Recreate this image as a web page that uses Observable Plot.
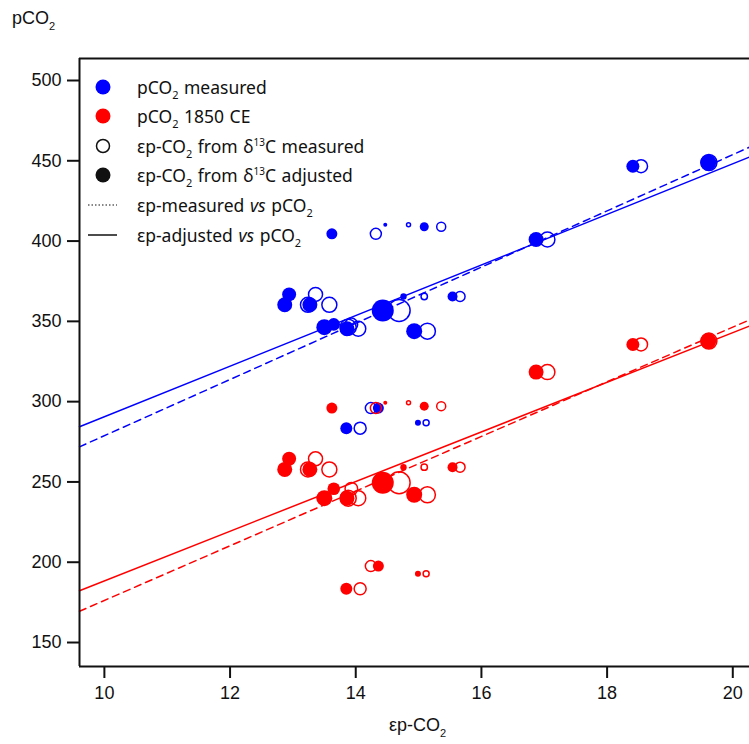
<!DOCTYPE html>
<html><head><meta charset="utf-8">
<script src="https://cdn.jsdelivr.net/npm/d3@7"></script>
<script src="https://cdn.jsdelivr.net/npm/@observablehq/plot@0.6"></script>
<style>
body{margin:0;background:#fff;}
#wrap{position:relative;width:749px;height:744px;overflow:hidden;}
.lg{position:absolute;left:80px;font-family:"Noto Sans",sans-serif;font-size:17.5px;color:#111;height:26px;line-height:26px;display:flex;align-items:center;white-space:nowrap;word-spacing:1px;}
.lg svg{width:48px;height:26px;margin-right:9px;flex:none;}
.lg sub{font-size:11px;vertical-align:-5px;line-height:0;}
.lg sup{font-size:10px;vertical-align:7px;line-height:0;}
.ax{position:absolute;font-family:"Liberation Sans",Arial,sans-serif;font-size:18px;color:#111;white-space:nowrap;}
.ax sub{font-size:11px;vertical-align:-6px;line-height:0;}
</style></head><body><div id="wrap"></div>
<script>
// ---- data ----
const sampleIds       = ["A","B","C","D","E","F","G","H","I","J","K","L","M","N","O","P","Q","R","S"];
const epsAdjusted     = [12.94,12.87,13.27,13.50,13.65,13.86,14.43,14.76,15.54,14.93,13.62,14.47,15.09,14.36,13.85,14.99,16.87,18.41,19.61];
const epsMeasured     = [13.36,13.24,13.58,13.88,13.93,14.04,14.69,15.09,15.66,15.14,14.32,14.84,15.36,14.24,14.07,15.12,17.05,18.54,19.62];
const pco2Measured    = [366.8,360.3,360.3,346.4,348.1,345.4,356.8,365.5,365.5,343.9,404.5,410.1,408.9,296.0,283.5,286.9,401.0,446.6,448.9];
const pco2Year1850    = [264.4,257.8,257.8,239.9,245.8,239.9,249.5,259.2,259.2,242.0,296.0,299.3,297.2,197.6,183.5,192.8,318.4,335.6,337.7];
const sampleWeight    = [7,7.5,7.5,8,6.3,7.5,11,3.2,5,8,5.5,2,4.5,5.5,6,3,7.5,6.5,8];

// regression fits: value at εp = 10 and slope
const fitNames      = ["blue-adjusted","blue-measured","red-adjusted","red-measured"];
const fitAt10       = [290.6,278.8,188.4,176.2];
const fitSlope      = [15.75,17.5,15.46,17.02];

const xTicks = [10,12,14,16,18,20];
const yTicks = [150,200,250,300,350,400,450,500];

// ---- build ----
const BLUE = "#0000ff", RED = "#ff0000";
const xDomain = [9.604, 20.266];
const yDomain = [135.06, 513.7];

const samples = sampleIds.map((id,i)=>({id, adj:epsAdjusted[i], meas:epsMeasured[i], pm:pco2Measured[i], p1850:pco2Year1850[i], w:sampleWeight[i]}));
const fitLines = fitNames.flatMap((name,i)=>xDomain.map(x=>({name, x, y: fitAt10[i] + fitSlope[i]*(x-10)})));
const lineOf = n => fitLines.filter(d=>d.name===n);

const chart = Plot.plot({
  width: 749, height: 744,
  marginLeft: 79, marginRight: 0, marginTop: 58, marginBottom: 78,
  x: {domain: xDomain, label: null},
  y: {domain: yDomain, label: null},
  r: {type: "linear", domain: [0, 10], range: [0, 10]},
  style: {fontFamily: "'Liberation Sans', Arial, sans-serif", fontSize: "18px", color: "#111", background: "white", overflow: "hidden"},
  marks: [
    Plot.line(lineOf("blue-adjusted"), {x:"x", y:"y", stroke: BLUE, strokeWidth: 1.5}),
    Plot.line(lineOf("blue-measured"), {x:"x", y:"y", stroke: BLUE, strokeWidth: 1.5, strokeDasharray: "7,5"}),
    Plot.line(lineOf("red-adjusted"), {x:"x", y:"y", stroke: RED, strokeWidth: 1.5}),
    Plot.line(lineOf("red-measured"), {x:"x", y:"y", stroke: RED, strokeWidth: 1.5, strokeDasharray: "7,5"}),
    Plot.dot(samples, {x:"adj", y:"pm", r:"w", fill: BLUE, stroke: "none"}),
    Plot.dot(samples, {x:"meas", y:"pm", r:"w", fill: "none", stroke: BLUE, strokeWidth: 1.5}),
    Plot.dot(samples, {x:"adj", y:"p1850", r:"w", fill: RED, stroke: "none"}),
    Plot.dot(samples, {x:"meas", y:"p1850", r:"w", fill: "none", stroke: RED, strokeWidth: 1.5}),
    Plot.ruleX([xDomain[0]], {stroke: "#111", strokeWidth: 2}),
    Plot.ruleY([yDomain[1]], {stroke: "#111", strokeWidth: 2}),
    Plot.ruleY([yDomain[0]], {stroke: "#111", strokeWidth: 2}),
    Plot.axisX({ticks: xTicks, tickSize: 12, tickPadding: 8, strokeWidth: 2, label: null}),
    Plot.axisY({ticks: yTicks, tickSize: 12, tickPadding: 6, strokeWidth: 2, label: null})
  ]
});
const wrap = document.getElementById("wrap");
wrap.appendChild(chart);

// axis titles
const yt = document.createElement("div");
yt.className = "ax"; yt.style.left = "12px"; yt.style.top = "8px";
yt.innerHTML = "pCO<sub>2</sub>";
wrap.appendChild(yt);
const xt = document.createElement("div");
xt.className = "ax"; xt.style.left = "0px"; xt.style.width = "835px"; xt.style.textAlign = "center"; xt.style.top = "715px";
xt.innerHTML = "εp-CO<sub>2</sub>";
wrap.appendChild(xt);

// legend
const legendRows = [
  {kind:"dot", color: BLUE, html: "pCO<sub>2</sub> measured"},
  {kind:"dot", color: RED, html: "pCO<sub>2</sub> 1850 CE"},
  {kind:"ring", color: "#111", html: "εp-CO<sub>2</sub> from δ<sup>13</sup>C measured"},
  {kind:"dot", color: "#111", html: "εp-CO<sub>2</sub> from δ<sup>13</sup>C adjusted"},
  {kind:"dotted", color: "#111", html: "εp-measured <i>vs</i> pCO<sub>2</sub>"},
  {kind:"solid", color: "#111", html: "εp-adjusted <i>vs</i> pCO<sub>2</sub>"}
];
const rowCenters = [87, 116, 146, 175, 205, 235];
legendRows.forEach((row,i)=>{
  const d = document.createElement("div");
  d.className = "lg";
  d.style.top = (rowCenters[i]-13) + "px";
  let sw = "";
  if (row.kind==="dot") sw = `<circle cx="23" cy="13" r="7.5" fill="${row.color}"/>`;
  if (row.kind==="ring") sw = `<circle cx="23" cy="13" r="6.5" fill="none" stroke="${row.color}" stroke-width="1.5"/>`;
  if (row.kind==="dotted") sw = `<line x1="8" x2="37" y1="13" y2="13" stroke="${row.color}" stroke-width="1.2" stroke-dasharray="1.5,2"/>`;
  if (row.kind==="solid") sw = `<line x1="8" x2="37" y1="13" y2="13" stroke="${row.color}" stroke-width="1.5"/>`;
  d.innerHTML = `<svg viewBox="0 0 48 26">${sw}</svg><span>${row.html}</span>`;
  wrap.appendChild(d);
});
</script></body></html>
